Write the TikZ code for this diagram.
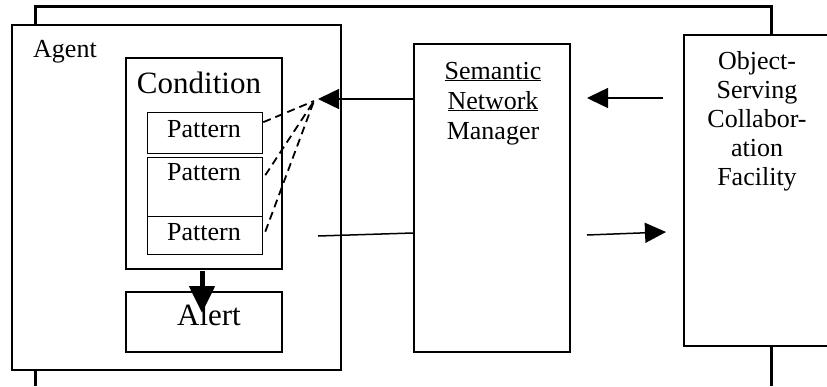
\documentclass[tikz,border=0pt]{standalone}
\usepackage{fontspec}
\setmainfont{Liberation Serif}
\usetikzlibrary{arrows.meta}
\begin{document}
\begin{tikzpicture}[x=1pt,y=-1pt,
  box/.style={draw, line width=1.5pt, inner sep=0pt, anchor=north west},
  patbox/.style={box, line width=1.3pt},
  txt/.style={inner sep=0pt, anchor=base, font=\fontsize{26}{30}\selectfont},
  bigtxt/.style={txt, font=\fontsize{31}{36}\selectfont},
  bus/.style={line width=3pt},
  link/.style={line width=1.5pt},
  flow/.style={link, -{Triangle[length=21pt,width=20pt]}},
  dep/.style={line width=1.8pt, dash pattern=on 8pt off 5pt}]
\useasboundingbox (0,0) rectangle (827,386);
\clip (0,0) rectangle (827,386);

% boxes
\node[box, minimum width=329pt, minimum height=345pt] (agent) at (11,24) {};
\node[box, minimum width=156pt, minimum height=211pt] (cond) at (125,57) {};
\node[patbox, minimum width=115pt, minimum height=41pt] (pat1) at (147,112) {};
\node[patbox, minimum width=115pt, minimum height=59pt] (pat2) at (147,157) {};
\node[patbox, minimum width=115pt, minimum height=38pt] (pat3) at (147,216) {};
\node[box, minimum width=156pt, minimum height=60pt] (alert) at (125,291) {};
\node[box, minimum width=156pt, minimum height=308pt] (snm) at (413,43) {};
\node[box, minimum width=200pt, minimum height=311pt] (oscf) at (683,34) {};

% labels
\node[txt, anchor=base west] (agentlbl) at (33,57) {Agent};
\node[bigtxt] (condlbl) at (199,93) {Condition};
\node[txt] (p1lbl) at (204,137) {Pattern};
\node[txt] (p2lbl) at (204,180) {Pattern};
\node[txt] (p3lbl) at (204,240) {Pattern};
\node[bigtxt] (alertlbl) at (209,325) {Alert};
\node[txt] (snm1) at (493,79) {\underline{Semantic}};
\node[txt] (snm2) at (493,109) {\underline{Network}};
\node[txt] (snm3) at (493,139) {Manager};
\node[txt] (os1) at (757,69) {Object-};
\node[txt] (os2) at (757,98) {Serving};
\node[txt] (os3) at (757,127) {Collabor-};
\node[txt] (os4) at (757,156) {ation};
\node[txt] (os5) at (757,185) {Facility};

% shared bus above and below
\coordinate (tl) at (35,6);
\coordinate (tr) at (771,6);
\coordinate (bl) at (35,386);
\coordinate (br) at (771,386);
\draw[bus] (tl |- agent.north) -- (tl) -- (tr) -- (tr |- oscf.north);
\draw[bus] (bl |- agent.south) -- (bl);
\draw[bus] (br |- oscf.south) -- (br);

% notification into the agent
\coordinate (hub) at (318,99);
\draw[flow] (snm.west |- hub) -- (hub);
\coordinate (dj) at (314,101);
\draw[dep] (pat1.east) ++(0,-11) -- (dj);
\draw[dep] (pat2.east) ++(2,-12) -- (dj);
\draw[dep] (pat3.east) ++(2,-4) -- (dj);

% messages between the manager and the facility
\coordinate (inR) at (663,98);
\coordinate (inTip) at (587,98);
\draw[flow] (inR) -- (inTip);
\coordinate (outL) at (318,236);
\coordinate (outJ) at (413,233);
\draw[link] (outL) -- (outJ);
\coordinate (fwdL) at (587,235);
\coordinate (fwdTip) at (666,232);
\draw[flow] (fwdL) -- (fwdTip);

% condition raises the alert
\coordinate (c2a) at (202,271);
\coordinate (c2aTip) at (202,313);
\draw[line width=5pt, -{Triangle[length=27pt,width=25pt]}] (c2a) -- (c2aTip);
\end{tikzpicture}
\end{document}
